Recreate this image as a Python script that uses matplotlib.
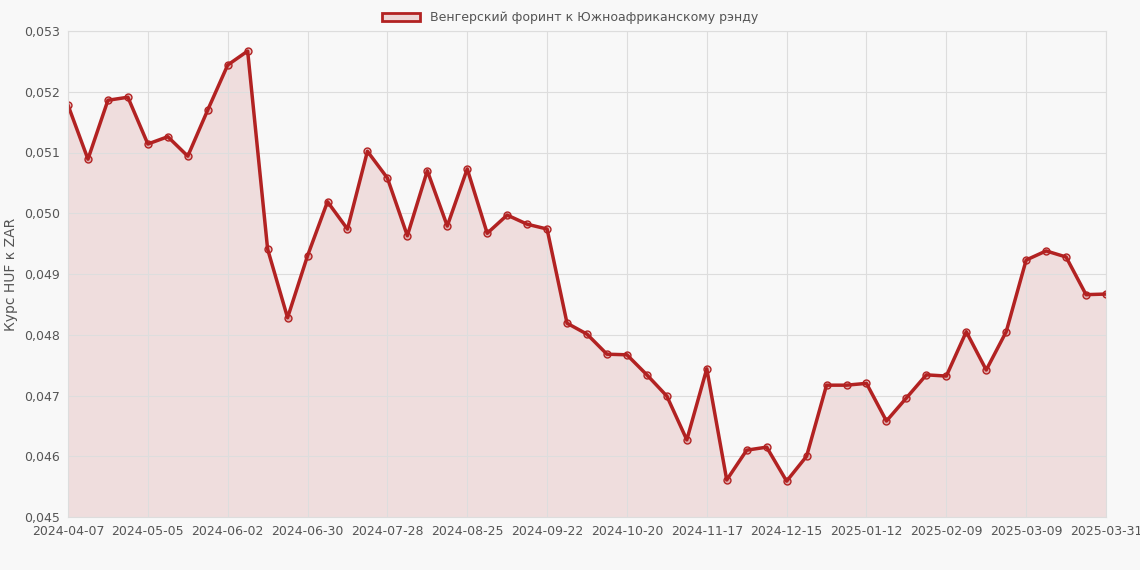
import matplotlib
matplotlib.use("Agg")
import matplotlib.pyplot as plt
from matplotlib.patches import Patch
from datetime import date, timedelta

# weekly points, last one falls on 2025-03-31
start = date(2024, 4, 7)
dates = [start + timedelta(days=7 * i) for i in range(52)] + [date(2025, 3, 31)]
labels = [d.isoformat() for d in dates]
values = [
    0.05178, 0.05089, 0.05186, 0.05191, 0.05114, 0.05126, 0.05094, 0.05170,
    0.05244, 0.05267, 0.04941, 0.04828, 0.04930, 0.05019, 0.04974, 0.05102,
    0.05058, 0.04963, 0.05070, 0.04979, 0.05073, 0.04967, 0.04997, 0.04982,
    0.04974, 0.04819, 0.04801, 0.04768, 0.04767, 0.04734, 0.04699, 0.04627,
    0.04744, 0.04561, 0.04610, 0.04615, 0.04559, 0.04600, 0.04717, 0.04717,
    0.04720, 0.04658, 0.04696, 0.04734, 0.04732, 0.04805, 0.04742, 0.04805,
    0.04923, 0.04938, 0.04928, 0.04866, 0.04867,
]
series_name = "Венгерский форинт к Южноафриканскому рэнду"

line_color = "#b22222"
fill_color = (0.70, 0.13, 0.13, 0.12)

fig = plt.figure(figsize=(11.4, 5.7), dpi=100, facecolor="#f8f8f8")
ax = fig.add_axes([68 / 1140, 1 - 517 / 570, (1106 - 68) / 1140, (517 - 31) / 570])
ax.set_facecolor("#f8f8f8")

x = list(range(len(values)))
ax.fill_between(x, values, 0.045, color=fill_color, linewidth=0)
ax.plot(x, values, color=line_color, linewidth=2.5, marker="o", markersize=5,
        markerfacecolor=(0.70, 0.13, 0.13, 0.25), markeredgecolor=line_color,
        markeredgewidth=1)

ax.set_xlim(0, len(values) - 1)
ax.set_ylim(0.045, 0.053)
ticks = list(range(0, 49, 4)) + [52]
ax.set_xticks(ticks)
ax.set_xticklabels([labels[i] for i in ticks])
ax.set_yticks([0.045 + 0.001 * i for i in range(9)])
ax.set_yticklabels([f"{0.045 + 0.001 * i:.3f}".replace(".", ",") for i in range(9)])
ax.tick_params(labelsize=9, colors="#555555", length=0, pad=6)
ax.grid(True, color="#dddddd", linewidth=0.8)
for s in ax.spines.values():
    s.set_color("#dddddd")
ax.set_ylabel("Курс HUF к ZAR", fontsize=10, color="#555555")

handle = Patch(facecolor=(0.70, 0.13, 0.13, 0.15), edgecolor=line_color, linewidth=2)
fig.legend([handle], [series_name], loc="upper center", bbox_to_anchor=(0.5, 1.0),
           frameon=False, fontsize=9, handlelength=3, labelcolor="#555555")

fig.savefig("out.png", dpi=100, facecolor=fig.get_facecolor())
